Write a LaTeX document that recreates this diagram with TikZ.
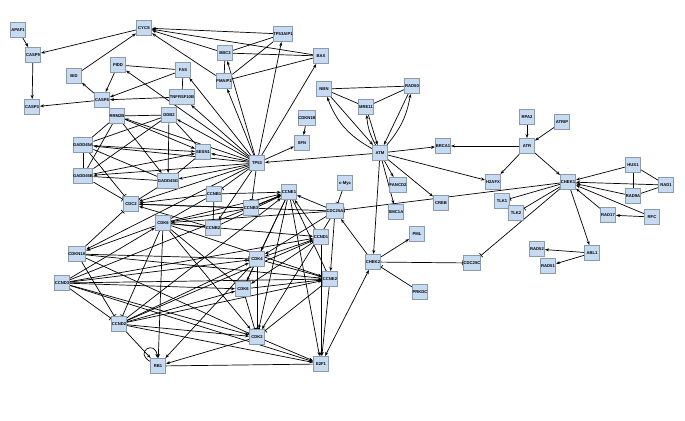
\documentclass[tikz,border=0pt]{standalone}
\usepackage{fontspec}
\setmainfont{Liberation Sans}
\usetikzlibrary{arrows.meta}
\pgfdeclarelayer{back}
\pgfdeclarelayer{bg}
\pgfsetlayers{back,bg,main}

\definecolor{genefill}{HTML}{C6DBF1}
\definecolor{genedraw}{HTML}{8C9BAA}

\def\plist{{(18,30)/APAF1/APAF1}, {(33,55)/CASP9/CASP9}, {(32,107)/CASP3/CASP3}, {(144,28)/CYCS/CYCS},
  {(74,76)/BID/BID}, {(118,65)/PIDD/PIDD}, {(183,70)/FAS/FAS}, {(102,100)/CASP8/CASP8},
  {(182,97)/TNFRSF10B/TNFRSF10B}, {(117,116)/RRM2B/RRM2B}, {(169,115)/DDB2/DDB2}, {(225,53)/BBC3/BBC3},
  {(283,34)/TP53AIP1/TP53AIP1}, {(321,56)/BAX/BAX}, {(224,81)/PMAIP1/PMAIP1}, {(324,89)/NBN/NBN},
  {(412,86)/RAD50/RAD50}, {(366,107)/MRE11/MRE11}, {(307,118)/CDKN1B/CDKN1B}, {(302,143)/SFN/SFN},
  {(257,163)/TP53/TP53}, {(380,153)/ATM/ATM}, {(443,146)/BRCA1/BRCA1}, {(527,146)/ATR/ATR},
  {(527,117)/RPA2/RPA2}, {(562,122)/ATRIP/ATRIP}, {(493,182)/H2AFX/H2AFX}, {(568,182)/CHEK1/CHEK1},
  {(633,165)/HUS1/HUS1}, {(666,185)/RAD1/RAD1}, {(633,196)/RAD9A/RAD9A}, {(608,215)/RAD17/RAD17},
  {(652,217)/RFC/RFC}, {(502,201)/TLK1/TLK1}, {(516,213)/TLK2/TLK2}, {(592,253)/ABL1/ABL1},
  {(537,249)/RAD52/RAD52}, {(548,266)/RAD51/RAD51}, {(472,263)/CDC25C/CDC25C}, {(417,234)/PML/PML},
  {(420,292)/PRKDC/PRKDC}, {(373,262)/CHEK2/CHEK2}, {(441,203)/CREB/CREB}, {(396,212)/SMC1A/SMC1A},
  {(398,185)/FANCD2/FANCD2}, {(345,183)/cMyc/c-Myc}, {(335,211)/CDC25A/CDC25A}, {(289,192)/CCNE1/CCNE1},
  {(321,237)/CCND1/CCND1}, {(257,259)/CDK4/CDK4}, {(330,279)/CCNE2/CCNE2}, {(243,289)/CDK5/CDK6},
  {(257,337)/CDK2/CDK2}, {(321,364)/E2F1/E2F1}, {(158,366)/RB1/RB1}, {(119,324)/CCND2/CCND2},
  {(62,283)/CCND3/CCND3}, {(77,254)/CDKN1A/CDKN1A}, {(163,223)/CDK6/CDK6}, {(131,204)/CDC2/CDC2},
  {(214,194)/CCNB1/CCNB1}, {(213,228)/CCNB2/CCNB2}, {(251,208)/CCNB3/CCNB3}, {(83,145)/GADD45A/GADD45A},
  {(83,176)/GADD45B/GADD45B}, {(168,181)/GADD45G/GADD45G}, {(203,152)/SESN1/SESN1}}

\tikzstyle{gene}=[rectangle, fill=genefill, draw=genedraw, line width=1bp, minimum width=15bp, minimum height=15bp, inner sep=0pt, font=\fontsize{4.2}{5}\selectfont\bfseries]
\tikzstyle{edge}=[draw, line width=0.7bp, -{Stealth[length=4bp,width=3bp]}]
\tikzstyle{inhibit}=[draw, line width=0.7bp, -{Bar[width=5bp]}]
\tikzstyle{link}=[draw, line width=0.7bp, -]

\begin{document}
\begin{tikzpicture}[x=1bp, y=-1bp]
  \useasboundingbox (0,0) rectangle (685,420);
  \begin{pgfonlayer}{back}
    \fill[white] (0,0) rectangle (685,420);
  \end{pgfonlayer}
  \foreach \pos/\name/\lab in \plist {
    \node[gene] (\name) at \pos {\lab};
  }

  \begin{pgfonlayer}{bg}
  % activations
  \foreach \source/\sink in {APAF1/CASP9, CYCS/CASP9, CASP9/CASP3, CASP8/CASP3, CASP8/BID, BID/CYCS,
      PIDD/CASP8, FAS/CASP8, TNFRSF10B/CASP8, BBC3/CYCS, PMAIP1/CYCS, TP53AIP1/CYCS, BAX/CYCS,
      TP53/BBC3, TP53/PMAIP1, TP53/TP53AIP1, TP53/BAX, TP53/FAS, TP53/PIDD, TP53/TNFRSF10B, TP53/SFN,
      CDKN1B/SFN, TP53/RRM2B, TP53/DDB2, TP53/SESN1, TP53/GADD45A, TP53/GADD45B, TP53/GADD45G,
      TP53/CDKN1A, TP53/CCNB2, TP53/CDC2, ATM/TP53, ATM/BRCA1, ATR/BRCA1, ATM/H2AFX, ATR/H2AFX, ATM/FANCD2,
      ATM/SMC1A, ATM/CREB, ATM/CHEK2, ATR/CHEK1, RPA2/ATR, ATRIP/ATR, HUS1/CHEK1, RAD1/CHEK1,
      RAD9A/CHEK1, RAD17/CHEK1, RFC/CHEK1, RFC/RAD17, CHEK1/ABL1, ABL1/RAD52, ABL1/RAD51, CHEK2/PML,
      CHEK2/CDC25A, NBN/ATM, MRE11/ATM, RAD50/ATM, CCNB1/CDC2, CCNB2/CDC2, CCNB3/CDC2,
      GADD45A/SESN1, GADD45B/SESN1, RRM2B/SESN1, DDB2/GADD45G, RRM2B/GADD45G,
      CCND3/CDK6, CCND3/CDK4, CCND3/CDK2, CCND3/CCNE1, CCND3/CCND1, CCND3/CCNE2, CCND3/CDK5, CCND3/E2F1,
      CCND2/CDK4, CCND2/CDK5, CCND2/CDK2, CCND2/CCNE1, CCND2/CCND1, CCND2/CCNE2, CCND2/E2F1, CCND2/RB1,
      CDK6/RB1, CDK4/RB1, CDK2/RB1, CDK6/CCNE1, CDK6/CCND1, CDK6/CCNE2, CDK6/CDK2, CDK6/CDKN1A,
      CCNE1/CDK4, CCNE1/CDK5, CCNE1/CDK2, CCNE1/E2F1, CCND1/CDK4, CCND1/CDK5, CCND1/E2F1, CCND1/CCNE1,
      CDK4/CCNE2, CDK5/CCNE2, CDK2/E2F1, CCNE2/E2F1, CDC25A/CDK2, CDC25A/CDK4, CDC25A/CDK6, CDC25A/CDC2,
      CDC25A/CCNE2, CDC25A/CCNE1, CCNB3/CCNE1, CCNB1/CCNE1, CCNB2/CCNE1} {
    \path[edge] (\source) -- (\sink);
  }
  % inhibitions
  \foreach \source/\sink in {GADD45A/CDC2, GADD45B/CDC2, GADD45G/CDC2, CDKN1A/CDC2, TP53/CCNB1,
      TP53/CCNB3, CDKN1A/CCND2, CDK6/CCND2, CHEK1/TLK1, CHEK1/TLK2, CHEK1/CDC25C, CHEK2/CDC25C,
      PRKDC/CHEK2, cMyc/CDC25A, CHEK1/CDC25A, CCND3/CCND2, CDKN1A/CDK2, CDKN1A/CDK4, CDKN1A/CCNE2,
      CCNE2/CDK2, CDK4/CDK2, CDK5/CDK2} {
    \path[inhibit] (\source) -- (\sink);
  }
  % plain links
  \foreach \source/\sink in {FAS/PIDD, FAS/TNFRSF10B, BBC3/TP53AIP1, BBC3/BAX, PMAIP1/TP53AIP1,
      PMAIP1/BAX, BBC3/PMAIP1, NBN/RAD50, NBN/MRE11, MRE11/RAD50, HUS1/RAD9A, HUS1/RAD1, RAD9A/RAD1,
      RRM2B/DDB2, RRM2B/GADD45A, RRM2B/GADD45B, DDB2/GADD45A, DDB2/GADD45B, DDB2/SESN1,
      GADD45A/GADD45B, GADD45A/GADD45G, GADD45B/GADD45G, SESN1/GADD45G, CCNB1/CCNB2, RB1/E2F1,
      CDK6/CCNB1, CDK6/CCNB2, CDK6/CCNB3, CDK6/CDK5, CDK4/CDK5, CCNE1/CCNE2} {
    \path[link] (\source) -- (\sink);
  }
  \path[edge] (ATM) to[bend left=20] (NBN);
  \path[edge] (ATM) to[bend left=12] (MRE11);
  \path[edge] (ATM) to[bend right=15] (RAD50);
  \path[draw, line width=0.7bp, {Stealth[length=4bp,width=3bp]}-{Stealth[length=4bp,width=3bp]}] (CHEK2) -- (E2F1);
  \path[edge] (RB1) to[out=150, in=95, looseness=6] (RB1);
  \end{pgfonlayer}
\end{tikzpicture}
\end{document}
